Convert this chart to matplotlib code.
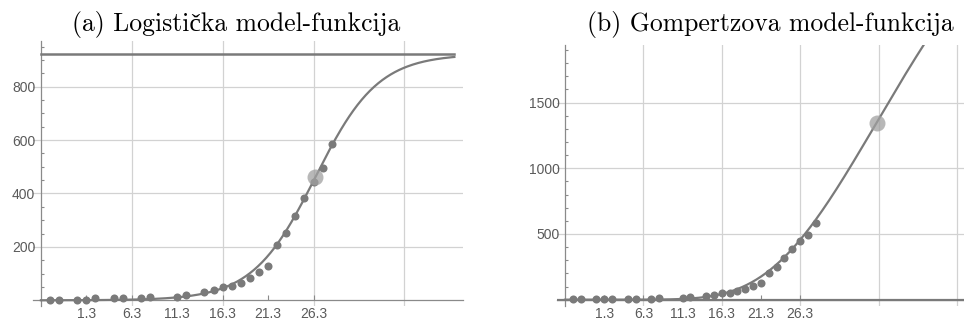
import numpy as np
import matplotlib
matplotlib.use("Agg")
import matplotlib.pyplot as plt
from matplotlib.ticker import MultipleLocator

# ---- data (days since start, cumulative cases) ----
days = [1, 2, 4, 5, 6, 8, 9, 11, 12, 15, 16, 18, 19, 20, 21, 22, 23, 24,
        25, 26, 27, 28, 29, 30, 31, 32]
cases = [3, 3, 3, 3, 9, 9, 9, 9, 14, 13, 19, 31, 37, 48, 54, 64, 82, 106,
         127, 206, 252, 315, 383, 443, 495, 585]

tick_pos = [5, 10, 15, 20, 25, 30]
tick_lab = ["1.3", "6.3", "11.3", "16.3", "21.3", "26.3"]

# logistic model: K, rate, inflection day
log_K, log_r, log_t0 = 922, 0.29, 30.2
# gompertz model: K, rate, inflection day (value K/e there)
gom_K, gom_c, gom_ti = 3662, 0.0753, 39.75

titles = ["(a) Logistička model-funkcija", "(b) Gompertzova model-funkcija"]

GRAY = "#7a7a7a"
GRID = "#d2d2d2"
AXC = "#8a8a8a"
LABC = "#5a5a5a"

plt.rcParams['font.family'] = ['Liberation Sans', 'DejaVu Sans']

fig = plt.figure(figsize=(9.64, 3.24), dpi=100)


def style_axes(ax, ymajor, yminor, xgrid):
    for s in ['top', 'right']:
        ax.spines[s].set_visible(False)
    ax.spines['left'].set_position(('data', 0))
    ax.spines['bottom'].set_position(('data', 0))
    for s in ['left', 'bottom']:
        ax.spines[s].set_color(AXC)
        ax.spines[s].set_linewidth(0.9)
        ax.spines[s].set_zorder(1)
    ax.set_xticks(tick_pos)
    ax.set_xticklabels(tick_lab)
    ax.yaxis.set_major_locator(MultipleLocator(ymajor))
    ax.yaxis.set_minor_locator(MultipleLocator(yminor))
    ax.tick_params(axis='both', which='both', direction='in', color=AXC,
                   labelcolor=LABC, labelsize=10, width=0.8)
    ax.tick_params(axis='x', length=3.5, pad=5)
    ax.tick_params(axis='y', which='major', length=0, pad=4)
    ax.tick_params(axis='y', which='minor', length=2.5)
    yt = [v for v in ax.get_yticks() if v > 0]
    ax.set_yticks(yt)
    for v in xgrid:
        ax.axvline(v, color=GRID, lw=0.9, zorder=0)
    for v in yt:
        ax.axhline(v, color=GRID, lw=0.9, zorder=0)


# ---- left: logistic ----
ax1 = fig.add_axes([33 / 964, 1 - 306 / 324, 430 / 964, 265 / 324])
ax1.set_xlim(-0.87, 46.45)
ax1.set_ylim(-21.3, 971)
ax1.set_yticks(np.arange(0, 1000, 200))
style_axes(ax1, 200, 50, [10, 20, 30, 40])
ax1.set_ylim(-21.3, 971)
t = np.linspace(0, 45.5, 300)
ax1.plot([0, 45.5], [log_K, log_K], color=GRAY, lw=1.8, zorder=3)
ax1.plot(t, log_K / (1 + np.exp(-log_r * (t - log_t0))), color=GRAY, lw=1.6, zorder=3)
ax1.plot(days, cases, 'o', color=GRAY, ms=5.8, mec='none', zorder=4)
ax1.plot([log_t0], [log_K / 2], 'o', color="#a0a0a0", alpha=0.75, ms=11.5,
         mec='none', zorder=5)

# ---- right: gompertz ----
ax2 = fig.add_axes([556.7 / 964, 1 - 306 / 324, 407.3 / 964, 261 / 324])
ax2.set_xlim(-1.06, 50.9)
ax2.set_ylim(-48, 1938)
ax2.set_yticks(np.arange(0, 2000, 500))
style_axes(ax2, 500, 100, [10, 20, 30, 40, 50])
ax2.set_ylim(-48, 1938)
t2 = np.linspace(0, 48, 400)
gom_b = np.exp(gom_c * gom_ti)
ax2.plot([-1.06, 50.9], [0, 0], color=GRAY, lw=1.6, zorder=3)
ax2.plot(t2, gom_K * np.exp(-gom_b * np.exp(-gom_c * t2)), color=GRAY, lw=1.6, zorder=3)
ax2.plot(days, cases, 'o', color=GRAY, ms=5.8, mec='none', zorder=4)
ax2.plot([gom_ti], [gom_K / np.e], 'o', color="#a0a0a0", alpha=0.75, ms=11.5,
         mec='none', zorder=5)

for ax in (ax1, ax2):
    for lab in ax.get_xticklabels() + ax.get_yticklabels():
        lab.set_clip_on(False)

tfont = ['cmr10', 'Liberation Serif']
fig.text(236 / 964, 1 - 25 / 324, titles[0], ha='center', va='center',
         fontsize=18.5, family=tfont)
fig.text(770 / 964, 1 - 25 / 324, titles[1], ha='center', va='center',
         fontsize=18.5, family=tfont)

fig.savefig("out.png", dpi=100)
